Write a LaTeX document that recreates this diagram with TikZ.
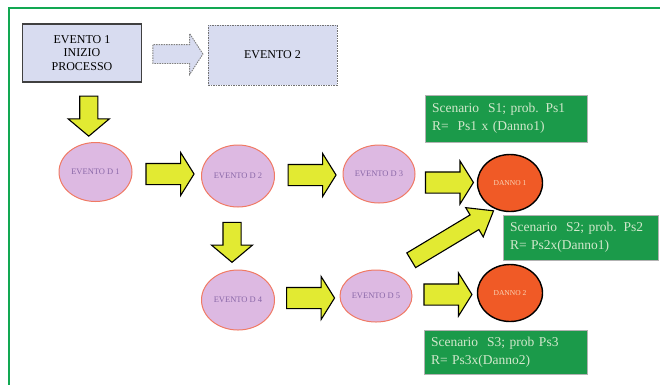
\documentclass[tikz,border=0pt]{standalone}
\usepackage{fontspec}
\setmainfont{Liberation Serif}
\usetikzlibrary{shapes.geometric,shapes.arrows,calc}
\definecolor{framegreen}{HTML}{12A852}
\definecolor{boxblue}{HTML}{D8DCF0}
\definecolor{evfill}{HTML}{DDB9E2}
\definecolor{evline}{HTML}{F07A64}
\definecolor{evtext}{HTML}{8A68A8}
\definecolor{dannofill}{HTML}{F05A26}
\definecolor{dannotext}{HTML}{F8D6B8}
\definecolor{scengreen}{HTML}{1B9A4A}
\definecolor{scentext}{HTML}{D2E8CC}
\definecolor{yfill}{HTML}{E2EA32}
\tikzset{
  evbox/.style={draw=black!75, line width=1.4pt, fill=boxblue, minimum width=119, minimum height=58,
    align=center, font=\fontsize{12}{13.5}\selectfont},
  evbox2/.style={draw=black!55, dashed, dash pattern=on 1.5pt off 1pt, line width=0.9pt, fill=boxblue,
    minimum width=129, minimum height=60, font=\fontsize{12}{13.5}\selectfont},
  evell/.style={ellipse, draw=evline, line width=1pt, fill=evfill, inner sep=0pt,
    text=evtext, font=\fontsize{8.5}{10}\selectfont},
  danno/.style={ellipse, draw=black, line width=1.4pt, fill=dannofill, inner sep=0pt,
    minimum width=65, minimum height=57, text=dannotext, font=\fontsize{7.5}{9}\selectfont},
  scen/.style={draw=black!30, line width=0.5pt, fill=scengreen, text=scentext, align=left,
    inner xsep=7pt, font=\fontsize{13.5}{18}\selectfont, anchor=center},
  yarrow/.style={single arrow, draw=black, line width=1.1pt, fill=yfill, inner xsep=0pt, inner ysep=10pt,
    minimum height=48, single arrow head extend=11, single arrow tip angle=116},
  varrow/.style={yarrow, minimum height=40, inner ysep=8.5pt, single arrow head extend=11.5,
    single arrow tip angle=100, rotate=-90},
  harrow/.style={single arrow, draw=black!50, dashed, dash pattern=on 1.5pt off 1pt, line width=0.9pt,
    fill=boxblue, inner xsep=0pt, inner ysep=9pt, minimum height=50, single arrow head extend=11,
    single arrow tip angle=114}
}
\begin{document}
\begin{tikzpicture}[x=1pt,y=-1pt]
\useasboundingbox (0,0) rectangle (660,384);
\clip (0,0) rectangle (660,384);
% frame
\draw[framegreen, line width=2.4pt] (9,8) rectangle (680,400);

% boxes
\node[evbox] (ev1) at (82,53) {EVENTO 1\\INIZIO\\PROCESSO};
\node[evbox2] (ev2) at (272.5,55) {EVENTO 2};

% events
\node[evell, minimum width=73, minimum height=59] (d1) at (95.5,172) {EVENTO D 1};
\node[evell, minimum width=73, minimum height=62] (d2) at (238,176) {EVENTO D 2};
\node[evell, minimum width=72, minimum height=58] (d3) at (379,174) {EVENTO D 3};
\node[evell, minimum width=73, minimum height=60] (d4) at (238,300) {EVENTO D 4};
\node[evell, minimum width=72, minimum height=52] (d5) at (376,296) {EVENTO D 5};

% damages
\node[danno] (dn1) at (510,183) {DANNO 1};
\node[danno] (dn2) at (510,293) {DANNO 2};

% scenarios
\node[scen, text width=148, minimum height=47] (s1) at (506,118.5)
  {Scenario~ S1; prob. Ps1\\R=~ Ps1 x (Danno1)};
\node[scen, text width=141, minimum height=45] (s2) at (580.5,237.5)
  {Scenario~ S2; prob. Ps2\\R= Ps2x(Danno1)};
\node[scen, text width=149, minimum height=44] (s3) at (505.5,352)
  {Scenario~ S3; prob Ps3\\R= Ps3x(Danno2)};

% arrows
\node[harrow] (a0) at ($(ev1.east)!0.5!(ev2.west)$) {};
\node[varrow] (a1) at ($(ev1.south)!0.5!(d1.north)$) {};
\node[yarrow] (a2) at ($(d1.east)!0.5!(d2.west)$) {};
\node[yarrow] (a3) at ($(d2.east)!0.5!(d3.west)$) {};
\node[yarrow, yshift=-4pt] (a4) at ($(d3.east)!0.5!(dn1.west)$) {};
\node[varrow, yshift=-6pt] (a5) at ($(d2.south)!0.5!(d4.north)$) {};
\node[yarrow] (a6) at ($(d4.east)!0.5!(d5.west)$) {};
\node[yarrow] (a7) at ($(d5.east)!0.5!(dn2.west)$) {};
\node[yarrow, rotate=31, minimum height=96, inner ysep=8pt, single arrow head extend=8.5,
  single arrow tip angle=75, xshift=4pt] (a8) at ($(d5.north east)!0.5!(dn1.south west)$) {};
\end{tikzpicture}
\end{document}
